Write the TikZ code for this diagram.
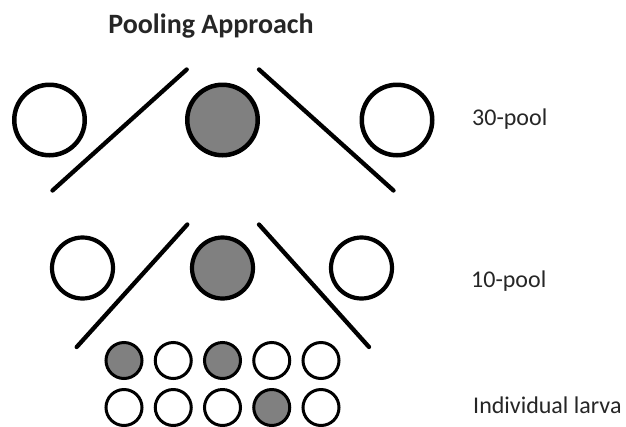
\documentclass[tikz,border=0pt]{standalone}
\usepackage{fontspec}
\setmainfont{Carlito}
\definecolor{poolgray}{RGB}{128,128,128}
\definecolor{txt}{RGB}{38,38,38}
\tikzset{
  bigc/.style={circle, draw=black, line width=4.5pt, minimum size=70.5pt, inner sep=0pt, outer sep=0pt},
  midc/.style={circle, draw=black, line width=4.2pt, minimum size=61pt, inner sep=0pt, outer sep=0pt},
  smallc/.style={circle, draw=black, line width=3pt, minimum size=36pt, inner sep=0pt, outer sep=0pt},
  filled/.style={fill=poolgray},
  open/.style={fill=white},
  divider/.style={line width=4.3pt, line cap=round},
  lbl/.style={anchor=base west, inner sep=0pt, text=txt, font=\fontsize{24}{28}\selectfont}
}
\begin{document}
\begin{tikzpicture}[x=1pt, y=-1pt]
\useasboundingbox (0,0) rectangle (626,426);
\fill[white] (0,0) rectangle (626,426);
\node[anchor=base, inner sep=0pt, text=txt, font=\bfseries\fontsize{28}{32}\selectfont] (title) at (211,33) {Pooling Approach};
% top row
\node[bigc, open] (t1) at (49.5,120) {};
\node[bigc, filled] (t2) at (222.5,120) {};
\node[bigc, open] (t3) at (397,120) {};
\coordinate (a1) at (186.7,69.5);
\coordinate (a2) at (52.5,190.5);
\coordinate (b1) at (259,69.5);
\coordinate (b2) at (393.5,190.5);
\draw[divider] (a1) -- (a2);
\draw[divider] (b1) -- (b2);
\node[lbl] (l30) at (472,125) {30-pool};
% second row
\node[midc, open] (m1) at (82.5,268) {};
\node[midc, filled] (m2) at (222.5,268) {};
\node[midc, open] (m3) at (361.5,268) {};
\coordinate (c1) at (187.3,224.5);
\coordinate (c2) at (76.7,347);
\coordinate (d1) at (259,224.5);
\coordinate (d2) at (369,347);
\draw[divider] (c1) -- (c2);
\draw[divider] (d1) -- (d2);
\node[lbl] (l10) at (471,287) {10-pool};
% individual larvae
\node[smallc, filled] (s11) at (124,360.5) {};
\node[smallc, open] (s12) at (173.25,360.5) {};
\node[smallc, filled] (s13) at (222.5,360.5) {};
\node[smallc, open] (s14) at (271.75,360.5) {};
\node[smallc, open] (s15) at (321,360.5) {};
\node[smallc, open] (s21) at (124,407.5) {};
\node[smallc, open] (s22) at (173.25,407.5) {};
\node[smallc, open] (s23) at (222.5,407.5) {};
\node[smallc, filled] (s24) at (271.75,407.5) {};
\node[smallc, open] (s25) at (321,407.5) {};
\node[lbl] (lind) at (473,413) {Individual larva};
\end{tikzpicture}
\end{document}
